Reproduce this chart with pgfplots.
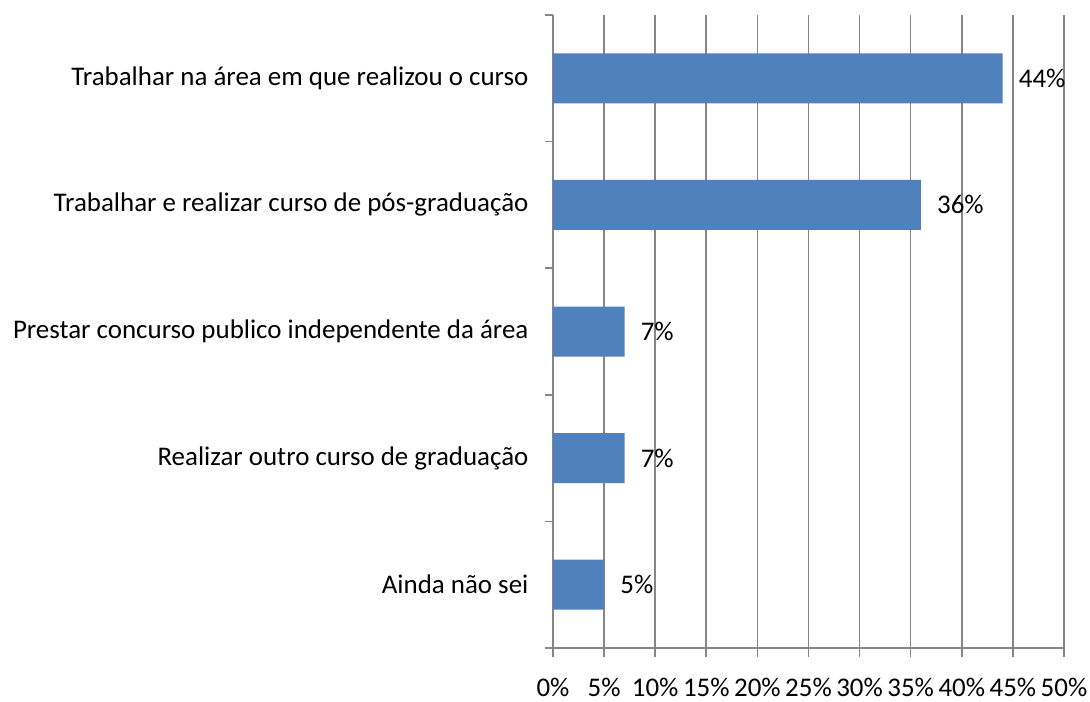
\documentclass[border=0pt]{standalone}
\usepackage{fontspec}
\setmainfont{Carlito}
\usepackage{pgfplots}
\pgfplotsset{compat=1.18}
\definecolor{barblue}{HTML}{4F81BD}
\definecolor{gridgray}{HTML}{868686}

\begin{document}
\begin{tikzpicture}
\path[use as bounding box] (-414.75pt,-40.5pt) rectangle (402.75pt,486pt);
\begin{axis}[
    at={(0,0)}, anchor=south west,
    scale only axis,
    width=383.25pt,
    height=474.75pt,
    xbar,
    bar width=37.5pt,
    xmin=0, xmax=50,
    ymin=-0.5, ymax=4.5,
    y dir=reverse,
    axis x line*=bottom,
    axis y line*=left,
    axis line style={gridgray, line width=1.2pt},
    xtick={0,5,...,50},
    xticklabel={\pgfmathprintnumber{\tick}\%},
    ytick={0,1,2,3,4},
    yticklabels={Trabalhar na área em que realizou o curso,
                 Trabalhar e realizar curso de pós-graduação,
                 Prestar concurso publico independente da área\hspace{0.23em},
                 Realizar outro curso de graduação,
                 Ainda não sei},
    minor ytick={-0.5,0.5,...,4.5},
    every major y tick/.style={draw=none},
    tick align=outside,
    major tick length=6.75pt,
    minor tick length=6pt,
    tick style={gridgray, line width=1.2pt},
    xmajorgrids,
    major grid style={gridgray, line width=1.2pt},
    /pgf/number format/assume math mode=true,
    tick label style={font=\fontsize{20.2}{23}\selectfont, text=black, inner sep=0pt},
    yticklabel style={xshift=-11.5pt},
    xticklabel style={yshift=-16pt},
    point meta=x,
    nodes near coords={\pgfmathprintnumber{\pgfplotspointmeta}\%},
    every node near coord/.append style={anchor=west, inner sep=0pt, xshift=12pt,
        font=\fontsize{20.2}{23}\selectfont, text=black},
]
\addplot[fill=barblue, draw=none] coordinates {(44,0) (36,1) (7,2) (7,3) (5,4)};
\end{axis}
\end{tikzpicture}
\end{document}
